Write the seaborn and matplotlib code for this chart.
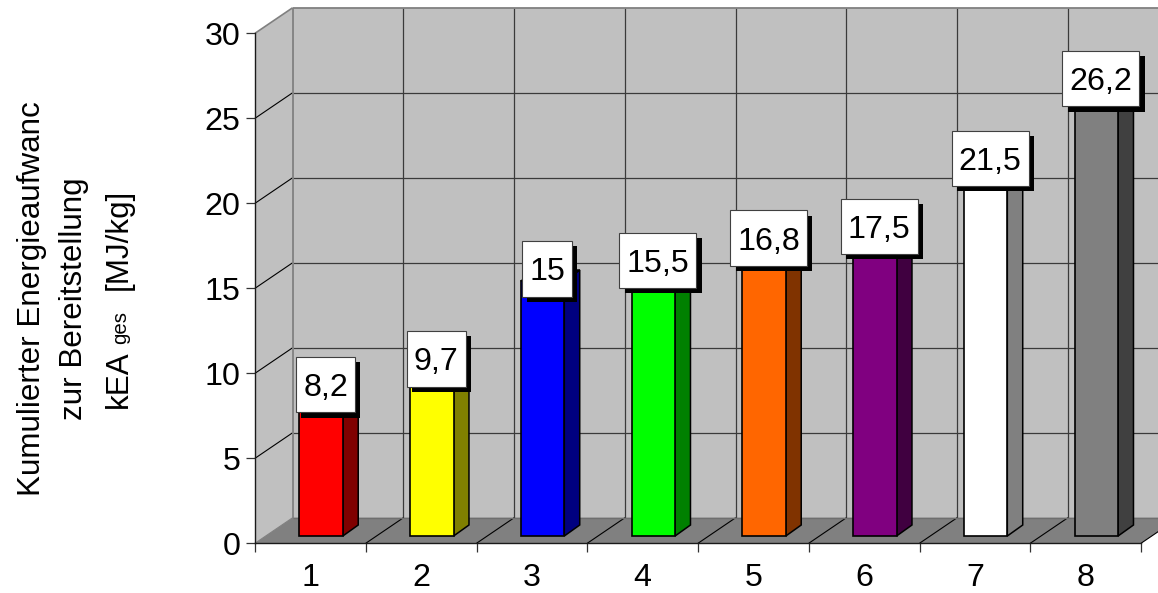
import matplotlib
matplotlib.use("Agg")
import matplotlib.pyplot as plt
import pandas as pd
import seaborn as sns
from matplotlib.patches import Polygon, Rectangle

categories = ["1", "2", "3", "4", "5", "6", "7", "8"]
values = [8.2, 9.7, 15, 15.5, 16.8, 17.5, 21.5, 26.2]
front_colors = ["#ff0000", "#ffff00", "#0000ff", "#00ff00", "#ff6600", "#800080", "#ffffff", "#808080"]
side_colors = ["#800000", "#808000", "#000080", "#008000", "#803300", "#400040", "#808080", "#404040"]
y_ticks = [0, 5, 10, 15, 20, 25, 30]

sns.set_theme(style="white", font="Liberation Sans")
plt.rcParams["font.family"] = ["Liberation Sans", "DejaVu Sans"]

W, H = 1158, 593
FONT = 23.2
fig = plt.figure(figsize=(W / 100, H / 100), dpi=100, facecolor="white")

# Front plane of the pseudo-3D frame, in pixel-derived figure fractions
left, base, right, top = 255.0, 543.3, 1141.0, 33.3
px_per_cat = (right - left) / 8
px_per_val = (base - top) / 30
ax = fig.add_axes([left / W, 1 - base / H, (right - left) / W, (base - top) / H])
ax.patch.set_alpha(0)
xmin, xmax = -0.5, 7.5
ax.set_xlim(xmin, xmax)
ax.set_ylim(0, 30)

# Depth of the box expressed in axis units
depth_x = 37.7 / px_per_cat
depth_y = 25.6 / px_per_val

wall = "#c0c0c0"
floor = "#808080"
grid = "#3a3a3a"
edge = "#808080"

ax.add_patch(Polygon([(xmin, 0), (xmin + depth_x, depth_y), (xmin + depth_x, 30 + depth_y), (xmin, 30)],
                     fc=wall, ec="none", clip_on=False, zorder=1))
ax.add_patch(Polygon([(xmin + depth_x, depth_y), (xmax + depth_x, depth_y),
                      (xmax + depth_x, 30 + depth_y), (xmin + depth_x, 30 + depth_y)],
                     fc=wall, ec="none", clip_on=False, zorder=1))
ax.add_patch(Polygon([(xmin, 0), (xmax, 0), (xmax + depth_x, depth_y), (xmin + depth_x, depth_y)],
                     fc=floor, ec="none", clip_on=False, zorder=1.5))

line_kw = dict(clip_on=False, zorder=2, solid_capstyle="butt")
for t in y_ticks[1:-1]:
    ax.plot([xmin + depth_x, xmax + depth_x], [t + depth_y] * 2, color=grid, lw=0.9, **line_kw)
    ax.plot([xmin, xmin + depth_x], [t, t + depth_y], color="black", lw=0.8, **line_kw)
for i in range(1, 9):
    x = xmin + i
    ax.plot([x + depth_x] * 2, [depth_y, 30 + depth_y], color=grid, lw=0.9, **line_kw)
    ax.plot([x, x + depth_x], [0, depth_y], color="black", lw=0.8, **line_kw)

# Lighter outline along the back corner and upper rim
ax.plot([xmin + depth_x] * 2, [depth_y, 30 + depth_y], color=edge, lw=1.3, **line_kw)
ax.plot([xmin + depth_x, xmax + depth_x], [30 + depth_y] * 2, color=edge, lw=1.3, **line_kw)
ax.plot([xmin, xmin + depth_x], [30, 30 + depth_y], color=edge, lw=1.2, **line_kw)
ax.plot([xmin + depth_x, xmax + depth_x], [depth_y] * 2, color="#6e6e6e", lw=1.0, **line_kw)
ax.plot([xmin, xmin + depth_x], [0, depth_y], color=edge, lw=0.8, **line_kw)

for name in ("top", "right"):
    ax.spines[name].set_visible(False)
for name in ("left", "bottom"):
    ax.spines[name].set_visible(True)
    ax.spines[name].set_color("#1a1a1a")
    ax.spines[name].set_linewidth(1.0)
    ax.spines[name].set_zorder(3)

ax.set_yticks(y_ticks)
ax.set_yticklabels([str(t) for t in y_ticks], fontsize=FONT, color="black")
ax.tick_params(axis="y", which="major", left=True, length=6.8, width=0.9, color="#333333", pad=3.5)
ax.set_xticks(range(8))
ax.set_xticklabels(categories, fontsize=FONT, color="black")
ax.tick_params(axis="x", which="major", bottom=False, pad=8)
ax.set_xticks([xmin + i for i in range(9)], minor=True)
ax.tick_params(axis="x", which="minor", bottom=True, length=6.5, width=0.9, color="#333333")
ax.grid(False)

# Bars stand a little way back on the floor, so they get their own shifted axes
inset = 0.285
shift_x, shift_y = inset * 37.7, inset * 25.6
bar_ax = fig.add_axes([(left + shift_x) / W, 1 - (base - shift_y) / H, (right - left) / W, (base - top) / H])
bar_ax.patch.set_alpha(0)

frame = pd.DataFrame({"category": categories, "value": values})
bar_width = 0.392
sns.barplot(data=frame, x="category", y="value", hue="category", order=categories,
            palette=dict(zip(categories, front_colors)), legend=False, width=bar_width,
            saturation=1, edgecolor="black", linewidth=1.2, ax=bar_ax, zorder=5)
bar_ax.set_xlim(xmin, xmax)
bar_ax.set_ylim(0, 30)
bar_ax.axis("off")
for bar in bar_ax.patches:
    bar.set_clip_on(False)

side_x = 15.4 / px_per_cat
side_y = 11.0 / px_per_val
half = bar_width / 2
for i, (v, shade) in enumerate(zip(values, side_colors)):
    bar_ax.add_patch(Polygon([(i + half, 0), (i + half + side_x, side_y),
                              (i + half + side_x, v + side_y), (i + half, v)],
                             fc=shade, ec="black", lw=1.1, clip_on=False, zorder=4))
    bar_ax.add_patch(Polygon([(i - half, v), (i - half + side_x, v + side_y),
                              (i + half + side_x, v + side_y), (i + half, v)],
                             fc=shade, ec="black", lw=1.1, clip_on=False, zorder=4))

# Value labels: white boxes with a hard black drop shadow
renderer = fig.canvas.get_renderer()
box_h = 55.6 / px_per_val
pad_x = 7.0
shadow_x, shadow_y = 5.3 / px_per_cat, 5.3 / px_per_val
for i, v in enumerate(values):
    cx, cy = i + 4.5 / px_per_cat, v + 12.2 / px_per_val
    label = bar_ax.text(cx, cy, f"{v:g}".replace(".", ","), fontsize=FONT, color="black",
                        ha="center", va="center_baseline", zorder=9, clip_on=False)
    box_w = (label.get_window_extent(renderer).width + 2 * pad_x) / px_per_cat
    bar_ax.add_patch(Rectangle((cx - box_w / 2 + shadow_x, cy - box_h / 2 - shadow_y), box_w, box_h,
                               fc="black", ec="none", clip_on=False, zorder=7))
    bar_ax.add_patch(Rectangle((cx - box_w / 2, cy - box_h / 2), box_w, box_h,
                               fc="white", ec="#404040", lw=0.8, clip_on=False, zorder=8))

# Rotated axis title, placed line by line
title_kw = dict(rotation=90, ha="center", va="bottom", fontsize=22.6, color="black")
fig.text(32 / W, 1 - 496 / H, "Kumulierter Energieaufwanc", **title_kw)
fig.text(74 / W, 1 - 420 / H, "zur Bereitstellung", **title_kw)
fig.text(119 / W, 1 - 408 / H, "kEA", **title_kw)
fig.text(121 / W, 1 - 344 / H, "ges", rotation=90, ha="center", va="bottom", fontsize=14.7, color="black")
fig.text(119 / W, 1 - 290 / H, "[MJ/kg]", **title_kw)

fig.savefig("out.png", dpi=100, facecolor="white")
